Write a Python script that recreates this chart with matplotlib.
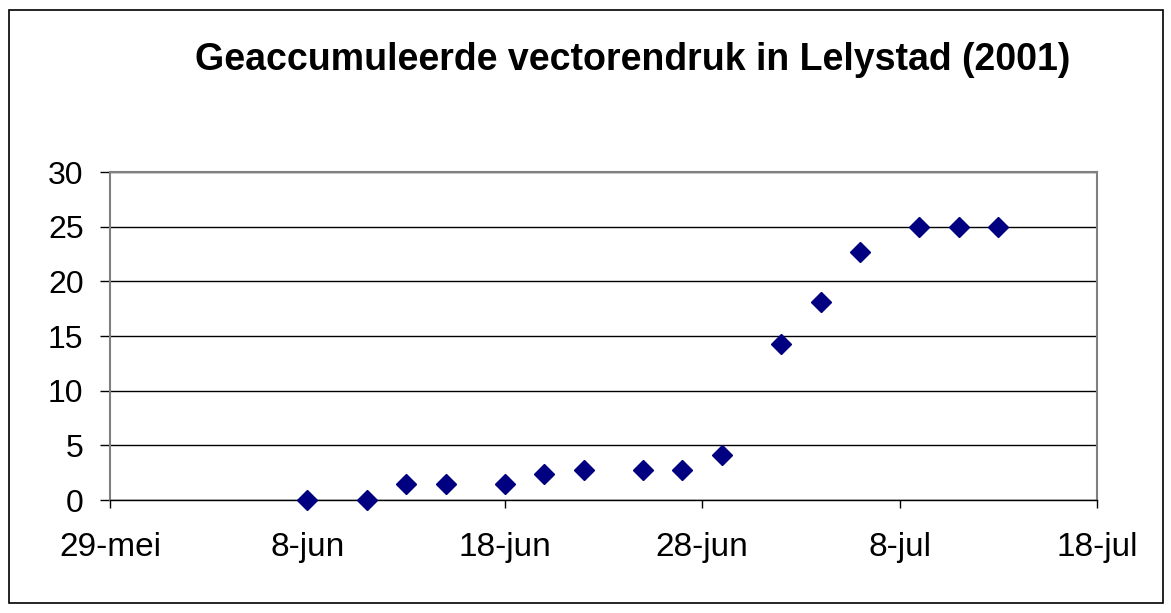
import matplotlib.pyplot as plt
import matplotlib.dates as mdates
from matplotlib.patches import Rectangle
import datetime as dt

plt.rcParams['font.family'] = ['Liberation Sans', 'DejaVu Sans']

# data (2001)
dates = ["2001-06-08", "2001-06-11", "2001-06-13", "2001-06-15", "2001-06-18",
         "2001-06-20", "2001-06-22", "2001-06-25", "2001-06-27", "2001-06-29",
         "2001-07-02", "2001-07-04", "2001-07-06", "2001-07-09", "2001-07-11",
         "2001-07-13"]
druk = [0, 0, 1.5, 1.5, 1.5, 2.4, 2.7, 2.7, 2.7, 4.1, 14.3, 18.1, 22.7, 25, 25, 25]

tick_dates = ["2001-05-29", "2001-06-08", "2001-06-18", "2001-06-28", "2001-07-08", "2001-07-18"]
tick_labels = ["29-mei", "8-jun", "18-jun", "28-jun", "8-jul", "18-jul"]

x = [dt.datetime.strptime(d, "%Y-%m-%d") for d in dates]
xt = [dt.datetime.strptime(d, "%Y-%m-%d") for d in tick_dates]

fig = plt.figure(figsize=(11.71, 6.13), dpi=100)
ax = fig.add_axes([110/1171, 113/613, 987/1171, 328/613])

ax.plot(x, druk, linestyle="none", marker="D", markersize=10.5,
        color="#000080", markeredgecolor="#000080", clip_on=False, zorder=5)

ax.set_xlim(xt[0], xt[-1])
ax.set_ylim(0, 30)
ax.set_xticks(mdates.date2num(xt))
ax.set_xticklabels(tick_labels)
ax.set_yticks(range(0, 31, 5))

ax.yaxis.grid(True, color="black", linewidth=1)
ax.set_axisbelow(True)
for s in ax.spines.values():
    s.set_color("#808080")
    s.set_linewidth(1.5)
ax.spines["bottom"].set_color("black")
ax.spines["bottom"].set_linewidth(1)

ax.tick_params(axis="both", color="black", width=1, direction="out")
ax.tick_params(axis="x", labelsize=24, length=6, pad=17)
ax.tick_params(axis="y", labelsize=23, length=7, pad=12)

fig.text(633/1171, 1 - 60/613, "Geaccumuleerde vectorendruk in Lelystad (2001)",
         ha="center", va="center", fontsize=27, fontweight="bold")

fig.patches.append(Rectangle((9/1171, 10/613), 1154/1171, 593/613, transform=fig.transFigure,
                             fill=False, edgecolor="black", linewidth=1.2))

fig.savefig("out.png", dpi=100)
